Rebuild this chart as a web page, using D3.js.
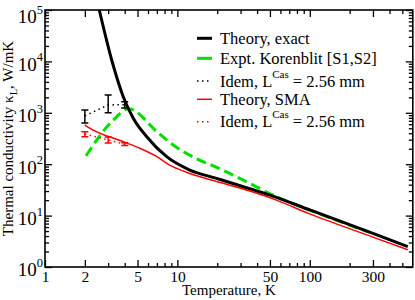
<!DOCTYPE html>
<html>
<head>
<meta charset="utf-8">
<script src="https://cdn.jsdelivr.net/npm/d3@7"></script>
<style>
body { margin: 0; background: #fff; }
svg { display: block; font-family: "Liberation Serif", "Times New Roman", serif; }
</style>
</head>
<body>
<div id="chart"></div>
<script>
// theory, exact
var exactT = [2.57, 3.19, 3.9, 4.64, 5.87, 8.3, 12.4, 19.8, 31.5, 50, 100, 300, 550];
var exactK = [1e5, 10650, 2057, 782, 343, 140, 77, 53, 36.5, 25, 12.9, 4.5, 2.5];

// theory, SMA
var smaT = [2, 2.19, 3.9, 5.2, 7, 8.8, 9.9, 12.4, 19.8, 35.3, 56, 100, 300, 550];
var smaK = [580, 499, 274, 204, 140, 95, 83, 66, 46, 30, 20, 10.8, 3.82, 2.16];

// experiment, Korenblit
var exptT = [2.04, 3.19, 4.3, 7, 9.3, 14, 19.8, 31.5, 56, 100, 280];
var exptK = [146, 671, 1200, 429, 236, 127, 87, 49, 23.3, 12.8, 4.75];

// Casimir-limited (dotted, with error bars)
var casT = [2, 3, 4];
var casExactK = [870, 1420, 1440];
var casExactLo = [630, 1005, 1240];
var casExactHi = [1130, 2220, 1640];
var casSmaK = [387, 296, 244];
var casSmaLo = [343, 259, 230];
var casSmaHi = [429, 338, 262];

// axes
var xMajor = [1, 2, 5, 10, 50, 100, 300];
var xMinor = [3, 4, 6, 7, 8, 9, 20, 30, 40, 60, 70, 80, 90, 200, 400, 500];
var yMajor = [1, 10, 100, 1000, 1e4, 1e5];
var yMinor = [];
yMajor.slice(0, -1).forEach(function(d) {
	for (var i = 2; i < 10; i++) yMinor.push(d * i);
});

var legendItems = [
	{ label: 'Theory, exact', color: '#000', width: 3, dash: null },
	{ label: 'Expt. Korenblit [S1,S2]', color: '#00e000', width: 3, dash: '15,5' },
	{ label: 'Idem, L', sup: 'Cas', rest: ' = 2.56 mm', color: '#000', width: 1.5, dash: '1.5,3.5' },
	{ label: 'Theory, SMA', color: '#ff0000', width: 1.5, dash: null },
	{ label: 'Idem, L', sup: 'Cas', rest: ' = 2.56 mm', color: '#ff0000', width: 1.5, dash: '1.5,3.5' }
];

function drawChart() {
	var width = 415,
	    height = 300,
	    mLeft = 45, mRight = 412.8, mTop = 10, mBottom = 267;

	var svg = d3.select('#chart').append('svg')
		.attr('width', width)
		.attr('height', height);

	svg.append('rect').attr('width', width).attr('height', height).attr('fill', '#fff');

	var x = d3.scaleLog().domain([1, 600]).range([mLeft, mRight]);
	var y = d3.scaleLog().domain([1, 1e5]).range([mBottom, mTop]);

	svg.append('clipPath').attr('id', 'clip')
		.append('rect').attr('x', mLeft).attr('y', mTop)
		.attr('width', mRight - mLeft).attr('height', mBottom - mTop);
	var plot = svg.append('g').attr('clip-path', 'url(#clip)');

	function line(ts, ks) {
		return d3.line()
			.x((d) => x(d))
			.y((d, i) => y(ks[i]))
			.curve(d3.curveMonotoneX)(ts);
	}

	// green dashed experiment
	plot.append('path').attr('d', line(exptT, exptK))
		.attr('fill', 'none').attr('stroke', '#00e000').attr('stroke-width', 3)
		.attr('stroke-dasharray', '10,5');

	// black exact
	plot.append('path').attr('d', line(exactT, exactK))
		.attr('fill', 'none').attr('stroke', '#000').attr('stroke-width', 3);

	// red SMA
	plot.append('path').attr('d', line(smaT, smaK))
		.attr('fill', 'none').attr('stroke', '#ff0000').attr('stroke-width', 1.5);

	function casimir(ks, lo, hi, color) {
		plot.append('path').attr('d', d3.line().x((d) => x(d)).y((d, i) => y(ks[i]))(casT))
			.attr('fill', 'none').attr('stroke', color).attr('stroke-width', 1.5)
			.attr('stroke-dasharray', '1.5,3.5');
		var bars = plot.append('g').attr('stroke', color).attr('stroke-width', 1.5);
		casT.forEach(function(t, i) {
			var cx = x(t);
			bars.append('line').attr('x1', cx).attr('x2', cx).attr('y1', y(lo[i])).attr('y2', y(hi[i]));
			bars.append('line').attr('x1', cx - 3.5).attr('x2', cx + 3.5).attr('y1', y(lo[i])).attr('y2', y(lo[i]));
			bars.append('line').attr('x1', cx - 3.5).attr('x2', cx + 3.5).attr('y1', y(hi[i])).attr('y2', y(hi[i]));
		});
	}
	casimir(casExactK, casExactLo, casExactHi, '#000');
	casimir(casSmaK, casSmaLo, casSmaHi, '#ff0000');

	// axes, ticks pointing inward
	function ticks(axisFn, scale, values, size, pos) {
		var a = axisFn(scale).tickValues(values).tickSizeInner(-size).tickSizeOuter(0).tickFormat('');
		var g = svg.append('g').attr('transform', pos).call(a);
		g.select('.domain').remove();
		g.selectAll('.tick line').attr('stroke', '#000').attr('stroke-width', 1.3);
		return g;
	}
	ticks(d3.axisBottom, x, xMinor, 4, 'translate(0,' + mBottom + ')');
	ticks(d3.axisTop, x, xMinor, 4, 'translate(0,' + mTop + ')');
	ticks(d3.axisTop, x, xMajor, 7, 'translate(0,' + mTop + ')');
	ticks(d3.axisLeft, y, yMinor, 4, 'translate(' + mLeft + ',0)');
	ticks(d3.axisRight, y, yMinor, 4, 'translate(' + mRight + ',0)');
	ticks(d3.axisRight, y, yMajor, 7, 'translate(' + mRight + ',0)');

	var xAx = svg.append('g').attr('transform', 'translate(0,' + mBottom + ')')
		.call(d3.axisBottom(x).tickValues(xMajor).tickSizeInner(-7).tickSizeOuter(0)
			.tickPadding(4).tickFormat(d3.format('d')));
	xAx.select('.domain').remove();
	xAx.selectAll('.tick line').attr('stroke', '#000').attr('stroke-width', 1.3);
	xAx.selectAll('.tick text').attr('font-size', 15.5).attr('fill', '#000')
		.attr('font-family', '"Liberation Serif", serif');

	var yAx = svg.append('g').attr('transform', 'translate(' + mLeft + ',0)')
		.call(d3.axisLeft(y).tickValues(yMajor).tickSizeInner(-7).tickSizeOuter(0)
			.tickPadding(2).tickFormat(''));
	yAx.select('.domain').remove();
	yAx.selectAll('.tick line').attr('stroke', '#000').attr('stroke-width', 1.3);
	yAx.selectAll('.tick text')
		.attr('font-size', 19).attr('fill', '#000')
		.attr('dy', (d) => d === 1e5 ? '0.68em' : '0.47em')
		.attr('font-family', '"Liberation Serif", serif')
		.each(function(d) {
			var t = d3.select(this);
			t.append('tspan').text('10');
			t.append('tspan').attr('font-size', 12.5).attr('dy', '-0.75em').text(Math.round(Math.log10(d)));
		});

	// frame
	svg.append('rect').attr('x', mLeft).attr('y', mTop)
		.attr('width', mRight - mLeft).attr('height', mBottom - mTop)
		.attr('fill', 'none').attr('stroke', '#000').attr('stroke-width', 1.6);

	// axis titles
	svg.append('text').attr('x', (mLeft + mRight) / 2).attr('y', 295)
		.attr('text-anchor', 'middle').attr('font-size', 15).text('Temperature, K');

	var yt = svg.append('text')
		.attr('transform', 'translate(12.5,' + ((mTop + mBottom) / 2) + ') rotate(-90)')
		.attr('text-anchor', 'middle').attr('font-size', 15);
	yt.append('tspan').text('Thermal conductivity \u03ba');
	yt.append('tspan').attr('font-size', 10.5).attr('dy', 4).text('L');
	yt.append('tspan').attr('dy', -4).text(', W/mK');

	// legend
	var legY = [38.3, 58.3, 81, 99.3, 121.7];
	var leg = svg.append('g');
	legendItems.forEach(function(d, i) {
		var row = leg.append('g').attr('transform', 'translate(0,' + legY[i] + ')');
		row.append('line').attr('x1', 197).attr('x2', 212).attr('y1', 0).attr('y2', 0)
			.attr('stroke', d.color).attr('stroke-width', d.width)
			.attr('stroke-dasharray', d.dash);
		var t = row.append('text').attr('x', 220).attr('y', 5.5).attr('font-size', 16.5);
		t.append('tspan').text(d.label);
		if (d.sup) {
			t.append('tspan').attr('font-size', 11).attr('dy', -9).text(d.sup);
			t.append('tspan').attr('dy', 9).text(d.rest);
		}
	});
}

drawChart();
</script>
</body>
</html>
